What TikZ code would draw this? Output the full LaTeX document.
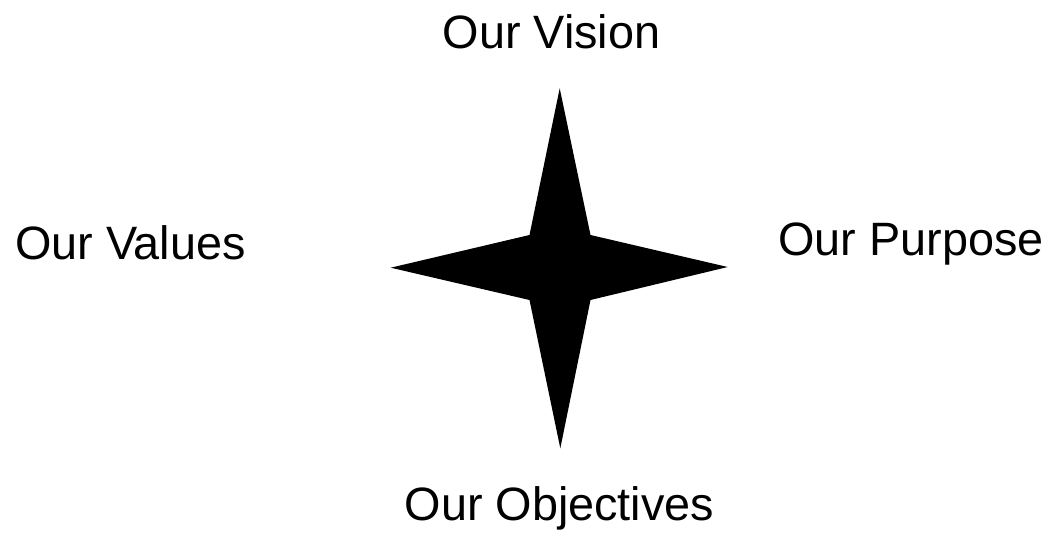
\documentclass[tikz,border=0pt]{standalone}
\usepackage{fontspec}
\setmainfont{Liberation Sans}
\usetikzlibrary{math}
\tikzset{
  label text/.style={anchor=base, inner sep=0pt, font=\fontsize{46.8}{52}\selectfont},
}

\begin{document}
\begin{tikzpicture}[x=1pt, y=-1pt]
\tikzmath{
\cx=560;
\cy=267.5;
\din=30.5;
\dv=32.5;
}
\useasboundingbox (0,0) rectangle (1053,538);
%star
\fill[black] (559.7,88.3) -- (\cx+\din,\cy-\dv) -- (727.7,267) -- (\cx+\din,\cy+\dv)
  -- (560.3,448.3) -- (\cx-\din,\cy+\dv) -- (390.7,267.7) -- (\cx-\din,\cy-\dv) -- cycle;
%labels
\node[label text] (vision) at (551.5,48) {Our Vision};
\node[label text] (values) at (130.5,259.5) {Our Values};
\node[label text] (purpose) at (911,255) {Our Purpose};
\node[label text] (objectives) at (559.5,520.5) {Our Objectives};
\end{tikzpicture}
\end{document}
